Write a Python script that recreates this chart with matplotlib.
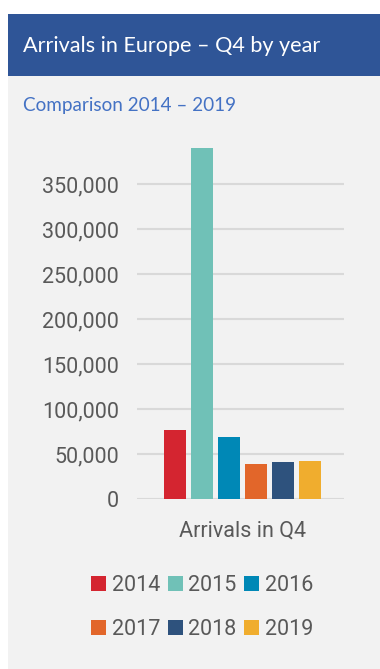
import matplotlib
matplotlib.use("Agg")
import matplotlib.pyplot as plt
from matplotlib.patches import Rectangle

years = ["2014", "2015", "2016", "2017", "2018", "2019"]
arrivals = [77000, 390000, 69000, 39000, 41000, 42500]
colors = ["#D42530", "#70C1B7", "#0088B6", "#E2662A", "#2E527D", "#F0AD2E"]
category = "Arrivals in Q4"
yticks = [0, 50000, 100000, 150000, 200000, 250000, 300000, 350000]

W, H = 380, 669
fig = plt.figure(figsize=(W / 100, H / 100), dpi=100)
fig.patch.set_facecolor("white")
plt.rcParams["font.family"] = ["Roboto", "DejaVu Sans"]

# card background and header band
fig.patches.append(Rectangle((8 / W, 0), 1, (H - 76) / H, transform=fig.transFigure,
                             facecolor="#F2F2F2", edgecolor="none", zorder=-2))
fig.patches.append(Rectangle((8 / W, (H - 76) / H), 1, 62 / H, transform=fig.transFigure,
                             facecolor="#2F5597", edgecolor="none", zorder=-2))
fig.text(23 / W, 1 - 46 / H, "Arrivals in Europe \u2013 Q4 by year", color="white",
         fontsize=15.6, family="Lato", va="center", ha="left")
fig.text(23 / W, 1 - 106 / H, "Comparison 2014 \u2013 2019", color="#4472C4",
         fontsize=13.6, family="Lato", va="center", ha="left")

# plot area in pixels
x0, x1 = 137, 344
y0, ytop = 499.3, 139.3
ax = fig.add_axes([x0 / W, (H - y0) / H, (x1 - x0) / W, (y0 - ytop) / H])
ax.set_facecolor("none")
ax.set_zorder(2)

step = 27.0
pos = list(range(len(years)))
ax.bar(pos, arrivals, width=22 / step, color=colors, zorder=3)
left = 2.5 - (242.5 - x0) / step
ax.set_xlim(left, left + (x1 - x0) / step)
ax.set_ylim(0, 400000)

ax.set_yticks(yticks)
ax.set_yticklabels([f"{v:,}" for v in yticks])
ax.yaxis.grid(True, color="#D9D9D9", linewidth=1.5, zorder=0)
ax.set_axisbelow(True)
ax.set_xticks([2.5])
ax.set_xticklabels([category])
ax.tick_params(axis="both", length=0, labelsize=15.5, labelcolor="#595959")
ax.tick_params(axis="y", pad=13)
ax.tick_params(axis="x", pad=15)
for s in ax.spines.values():
    s.set_visible(False)

# legend fills column by column, so reorder to read across rows
handles = [Rectangle((0, 0), 1, 1, facecolor=c) for c in colors]
order = [0, 3, 1, 4, 2, 5]
fig.legend([handles[i] for i in order], [years[i] for i in order], ncol=3,
           loc="center", bbox_to_anchor=(202 / W, 1 - 607.5 / H),
           frameon=False, fontsize=15.5, handlelength=0.7, handleheight=0.7,
           handletextpad=0.25, columnspacing=0.36, labelspacing=1.05,
           labelcolor="#595959")

fig.savefig("out.png", dpi=100, facecolor=fig.get_facecolor())
